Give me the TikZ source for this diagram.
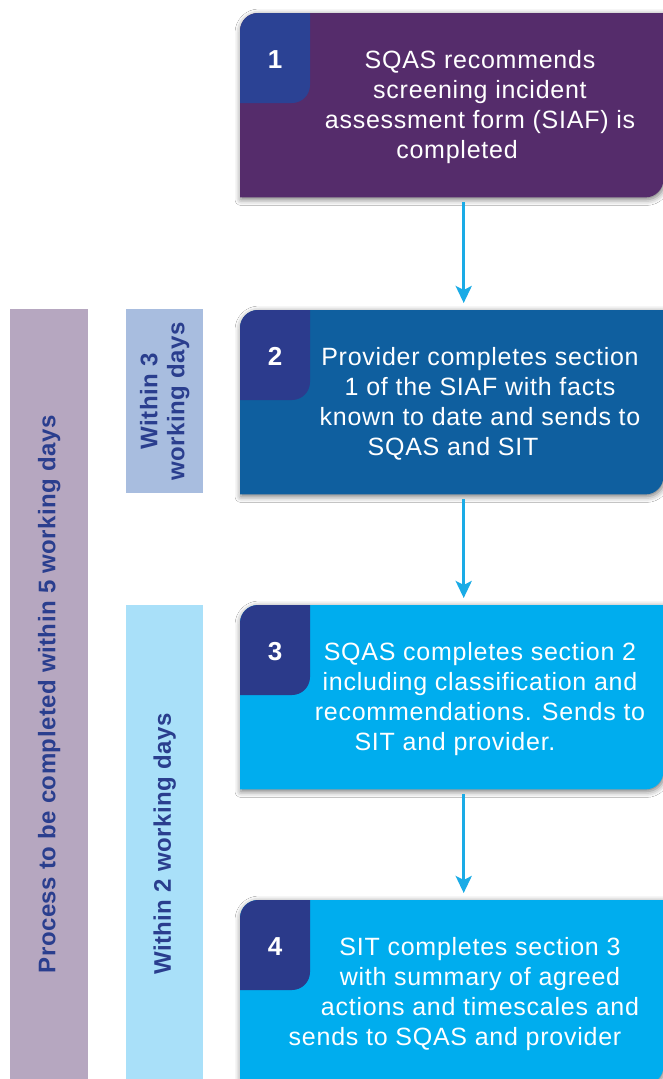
\documentclass[tikz,border=0pt]{standalone}
\usepackage{fontspec}
\setmainfont{Liberation Sans}
\newfontfamily\stepfont{Liberation Sans}[LetterSpace=3]
\newfontfamily\sidefont{Liberation Sans}[LetterSpace=2]
\usetikzlibrary{arrows.meta,shadows.blur}

\definecolor{stepone}{HTML}{552C6B}
\definecolor{steptwo}{HTML}{0F5F9F}
\definecolor{stepthree}{HTML}{00ADEE}
\definecolor{badgeone}{HTML}{2B4294}
\definecolor{badgetwo}{HTML}{2C3B8D}
\definecolor{badgethree}{HTML}{2B3A8A}
\definecolor{arrowcyan}{HTML}{1AABE6}
\definecolor{barpurple}{HTML}{B6A7C0}
\definecolor{barblue}{HTML}{A8BDDF}
\definecolor{barcyan}{HTML}{A9E0F9}
\definecolor{bartext}{HTML}{2A3E8E}

% Step panel: rounded top-left and bottom-right corners, with a number tab
\newcommand{\stepshape}[3]{%
  \fill[#2, boxshadow] (#1.south west)
    -- ([yshift=-18pt]#1.north west) arc[start angle=180,end angle=90,radius=18pt]
    -- (#1.north east)
    -- ([yshift=18pt]#1.south east) arc[start angle=0,end angle=-90,radius=18pt]
    -- cycle;
  \fill[#3] ([yshift=-90pt]#1.north west)
    -- ([yshift=-18pt]#1.north west) arc[start angle=180,end angle=90,radius=18pt]
    -- ([xshift=70pt]#1.north west)
    -- ([xshift=70pt,yshift=-72pt]#1.north west) arc[start angle=0,end angle=-90,radius=18pt]
    -- cycle;
}

\begin{document}
\begin{tikzpicture}[x=1pt,y=-1pt,
  frame/.style={rectangle, inner sep=0pt, minimum width=423pt, minimum height=184pt, anchor=north west},
  steptext/.style={text=white, font=\stepfont\fontsize{25}{30}\selectfont, align=center, inner sep=0pt, anchor=north},
  numtext/.style={text=white, font=\bfseries\fontsize{26}{30}\selectfont, inner sep=0pt, anchor=base},
  bar/.style={rectangle, inner sep=0pt, minimum width=77pt, anchor=north west},
  sidetext/.style={text=bartext, font=\sidefont\bfseries\fontsize{24}{27}\selectfont, align=center, rotate=90, inner sep=0pt},
  arr/.style={draw=arrowcyan, line width=3pt, -{Stealth[length=17pt,width=16pt,inset=4pt]}, shorten <=5pt, shorten >=7pt},
  boxshadow/.style={blur shadow={shadow xshift=1pt, shadow yshift=-2pt, shadow blur radius=6pt, shadow opacity=55}}
]
\fill[white] (0,0) rectangle (663,1079);
\useasboundingbox (0,0) rectangle (663,1079);

% time-frame bars
\node[bar, fill=barpurple, minimum width=78pt, minimum height=770pt] (total) at (10,309) {};
\node[bar, fill=barblue, minimum height=184pt] (three) at (126,309) {};
\node[bar, fill=barcyan, minimum height=474pt] (two) at (126,605) {};
\node[sidetext] (totaltext) at (total.center) {Process to be completed within 5 working days};
\node[sidetext] (threetext) at (three.center) {Within 3\\working days};
\node[sidetext] (twotext) at ([yshift=-2pt]two.center) {Within 2 working days};

% step panels
\node[frame] (s1) at (240,13) {};
\node[frame] (s2) at (240,310) {};
\node[frame] (s3) at (240,605) {};
\node[frame] (s4) at (240,900) {};

\stepshape{s1}{stepone}{badgeone}
\stepshape{s2}{steptwo}{badgetwo}
\stepshape{s3}{stepthree}{badgethree}
\stepshape{s4}{stepthree}{badgethree}

\node[numtext] (n1) at ([xshift=35pt,yshift=-55pt]s1.north west) {1};
\node[numtext] (n2) at ([xshift=35pt,yshift=-55pt]s2.north west) {2};
\node[numtext] (n3) at ([xshift=35pt,yshift=-55pt]s3.north west) {3};
\node[numtext] (n4) at ([xshift=35pt,yshift=-55pt]s4.north west) {4};

\node[steptext] (t1) at ([xshift=240pt,yshift=-37pt]s1.north west)
  {SQAS recommends\\screening incident\\assessment form (SIAF) is\\completed\hspace*{46pt}\mbox{}};
\node[steptext] (t2) at ([xshift=240pt,yshift=-37pt]s2.north west)
  {Provider completes section\\1 of the SIAF with facts\\known to date and sends to\\SQAS and SIT\hspace*{54pt}\mbox{}};
\node[steptext] (t3) at ([xshift=240pt,yshift=-37pt]s3.north west)
  {SQAS completes section 2\\including classification and\\recommendations. Sends to\\SIT and provider.\hspace*{50pt}\mbox{}};
\node[steptext] (t4) at ([xshift=240pt,yshift=-37pt]s4.north west)
  {SIT completes section 3\\with summary of agreed\\actions and timescales and\\sends to SQAS and provider\hspace*{50pt}\mbox{}};

% connectors
\draw[arr] ([xshift=12pt]s1.south) -- ([xshift=12pt]s2.north);
\draw[arr] ([xshift=12pt]s2.south) -- ([xshift=12pt]s3.north);
\draw[arr] ([xshift=12pt]s3.south) -- ([xshift=12pt]s4.north);
\end{tikzpicture}
\end{document}
